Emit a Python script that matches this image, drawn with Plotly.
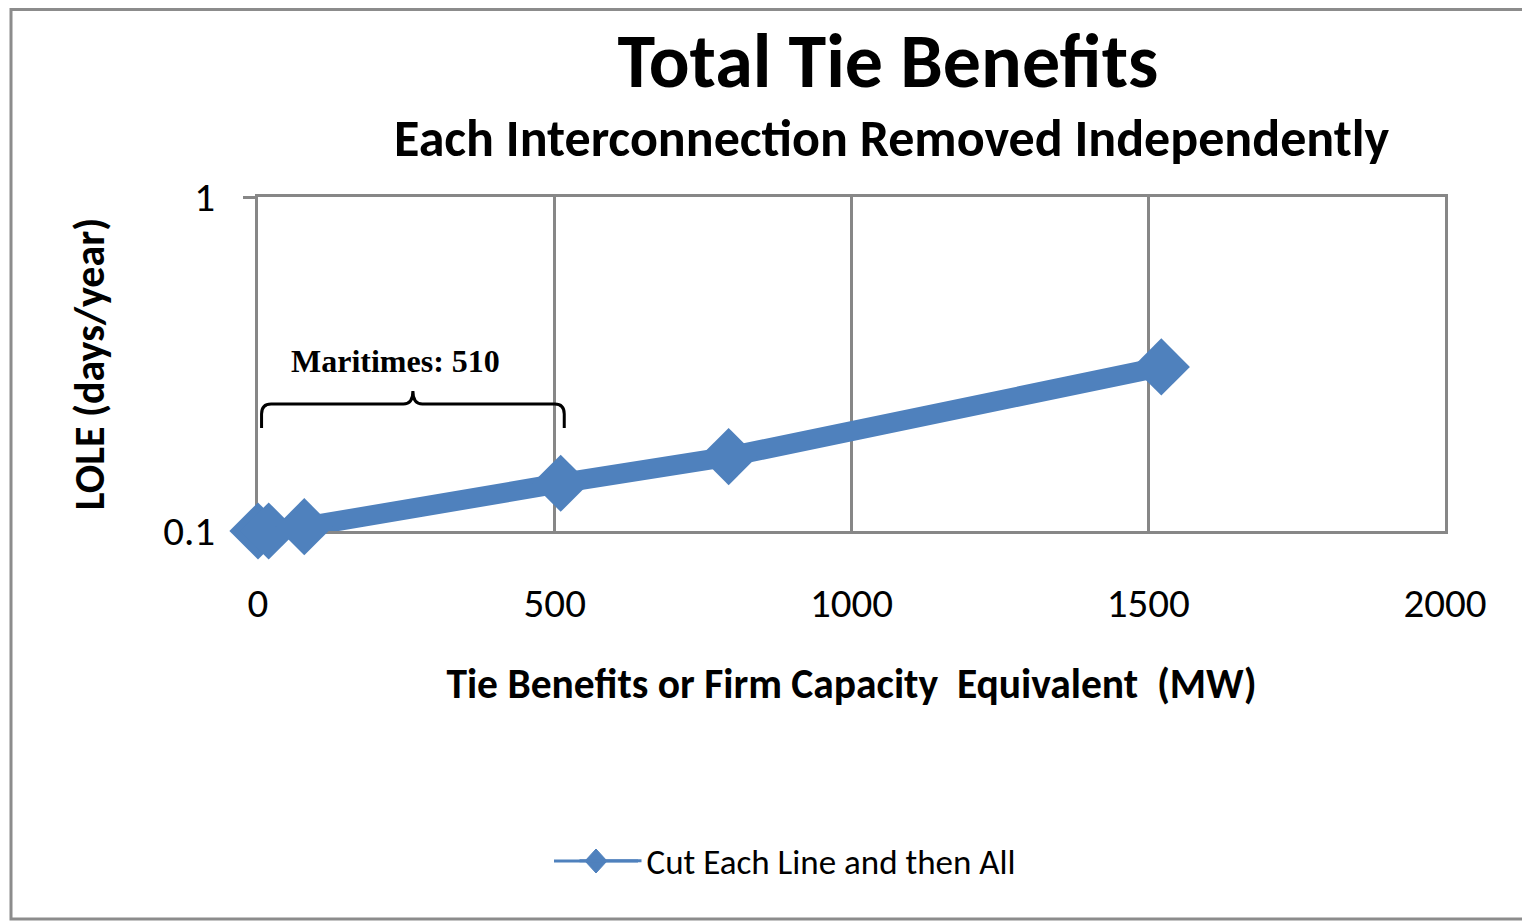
import plotly.graph_objects as go

# ---------------------------------------------------------------------------
# Data
# ---------------------------------------------------------------------------
TIE_MW = [0, 18, 78, 510, 793, 1522]
LOLE = [0.1, 0.1, 0.103, 0.139, 0.167, 0.31]

X_TICKS = [0, 500, 1000, 1500, 2000]
Y_TICKS = [0.1, 1]
Y_TICK_TEXT = ["0.1", "1"]

MARITIMES_MW = 510
MARITIMES_LABEL = "Maritimes: 510"

SERIES_NAME = "Cut Each Line and then All"

# ---------------------------------------------------------------------------
# Styling / layout (positions given in page pixels, page offset of 8px)
# ---------------------------------------------------------------------------
_BLUE = "#4F81BD"
_GRID = "#878787"
_FONT = "Carlito, Lato, sans-serif"

OFF = 8
W, H = 1530, 921
PLOT_L, PLOT_R, PLOT_T, PLOT_B = 258, 1445, 197, 531
L = PLOT_L - OFF
T = PLOT_T - OFF
R = W - (PLOT_R - OFF)
B = H - (PLOT_B - OFF)
PLOT_W = PLOT_R - PLOT_L
PLOT_H = PLOT_B - PLOT_T


def _px(page_x):
    """Page pixel column -> paper x."""
    return (page_x - PLOT_L) / PLOT_W


def _py(page_y):
    """Page pixel row -> paper y."""
    return (PLOT_B - page_y) / PLOT_H


fig = go.Figure()

# main series (thick line, big diamonds)
fig.add_trace(go.Scatter(
    x=TIE_MW,
    y=LOLE,
    mode="lines+markers",
    line={"color": _BLUE, "width": 20},
    marker={"symbol": "diamond", "size": 44, "color": _BLUE},
    cliponaxis=False,
    showlegend=False,
    legendgroup="s",
))
# legend entry with the thin Excel-like look
fig.add_trace(go.Scatter(
    x=[None],
    y=[None],
    mode="lines",
    name=SERIES_NAME,
    line={"color": _BLUE, "width": 3},
    legendgroup="s",
))

# brace under the Maritimes label
y_end, y_bar, y_tip = _py(428), _py(404), _py(391)
x0, x1 = 6, MARITIMES_MW + 6
mid = (x0 + x1) / 2
r = 16
brace = (
    f"M {x0},{y_end} L {x0},{_py(414)} Q {x0},{y_bar} {x0 + r},{y_bar} "
    f"L {mid - r},{y_bar} Q {mid},{y_bar} {mid},{y_tip} "
    f"Q {mid},{y_bar} {mid + r},{y_bar} "
    f"L {x1 - r},{y_bar} Q {x1},{y_bar} {x1},{_py(414)} L {x1},{y_end}"
)

# legend key: long thin line with a diamond in the middle
LEG_Y = 861
LEG_X0, LEG_X1 = 554, 638
LEG_CX = 596
legend_diamond = (
    f"M {_px(LEG_CX)},{_py(LEG_Y - 12)} L {_px(LEG_CX + 11)},{_py(LEG_Y)} "
    f"L {_px(LEG_CX)},{_py(LEG_Y + 12)} L {_px(LEG_CX - 11)},{_py(LEG_Y)} Z"
)

shapes = [
    {"type": "path", "xref": "x", "yref": "paper", "path": brace,
     "line": {"color": "black", "width": 3}},
    {"type": "line", "xref": "paper", "yref": "paper",
     "x0": _px(LEG_X0), "x1": _px(LEG_X1), "y0": _py(LEG_Y), "y1": _py(LEG_Y),
     "line": {"color": _BLUE, "width": 3}},
    {"type": "path", "xref": "paper", "yref": "paper", "path": legend_diamond,
     "fillcolor": _BLUE, "line": {"color": _BLUE, "width": 1}},
    # outer chart frame
    {"type": "rect", "xref": "paper", "yref": "paper",
     "x0": _px(11), "x1": _px(1545),
     "y0": _py(919), "y1": _py(OFF + 1.5),
     "line": {"color": "#8c8c8c", "width": 3}, "layer": "below"},
]

annotations = [
    {"text": "<b>Each Interconnection Removed Independently</b>",
     "xref": "paper", "yref": "paper", "x": _px(892), "y": _py(138),
     "xanchor": "center", "yanchor": "middle", "showarrow": False,
     "font": {"family": _FONT, "size": 52, "color": "black"}},
    {"text": f"<b>{MARITIMES_LABEL}</b>",
     "xref": "x", "yref": "paper", "x": 232, "y": _py(361),
     "xanchor": "center", "yanchor": "middle", "showarrow": False,
     "font": {"family": "Liberation Serif, Times New Roman, serif", "size": 32,
              "color": "black"}},
]

axis_common = {
    "showgrid": True,
    "gridcolor": _GRID,
    "gridwidth": 2.5,
    "showline": True,
    "linecolor": _GRID,
    "linewidth": 2.5,
    "mirror": True,
    "zeroline": False,
    "layer": "below traces",
    "tickfont": {"family": _FONT, "size": 41, "color": "black"},
}

fig.update_layout(
    width=W,
    height=H,
    margin={"l": L, "r": R, "t": T, "b": B},
    paper_bgcolor="white",
    plot_bgcolor="white",
    font={"family": _FONT, "color": "black"},
    title={
        "text": "<b>Total Tie Benefits</b>",
        "xref": "paper", "x": _px(888), "xanchor": "center",
        "yref": "container", "y": 1 - (60 - OFF) / H, "yanchor": "middle",
        "font": {"family": _FONT, "size": 76, "color": "black"},
    },
    xaxis={
        **axis_common,
        "range": [0, 2000],
        "tickvals": X_TICKS,
        "ticks": "",
        "ticklabelstandoff": 34,
        "title": {"text": "<b>Tie Benefits or Firm Capacity  Equivalent  (MW)</b>",
                  "font": {"family": _FONT, "size": 41.5, "color": "black"},
                  "standoff": 42},
    },
    yaxis={
        **axis_common,
        "type": "log",
        "range": [-1, 0],
        "tickvals": Y_TICKS,
        "ticktext": Y_TICK_TEXT,
        "ticks": "outside",
        "ticklen": 12,
        "tickwidth": 2.5,
        "tickcolor": _GRID,
        "ticklabelstandoff": 20,
        "title": {"text": "<b>LOLE (days/year)</b>",
                  "font": {"family": _FONT, "size": 42, "color": "black"},
                  "standoff": 46},
    },
    legend={
        "orientation": "h",
        "xref": "paper", "x": _px(798), "xanchor": "center",
        "yref": "paper", "y": _py(LEG_Y), "yanchor": "middle",
        "itemwidth": 62,
        "font": {"family": _FONT, "size": 35, "color": "black"},
        "bgcolor": "rgba(0,0,0,0)",
    },
    shapes=shapes,
    annotations=annotations,
)

fig.write_html("out.html")
